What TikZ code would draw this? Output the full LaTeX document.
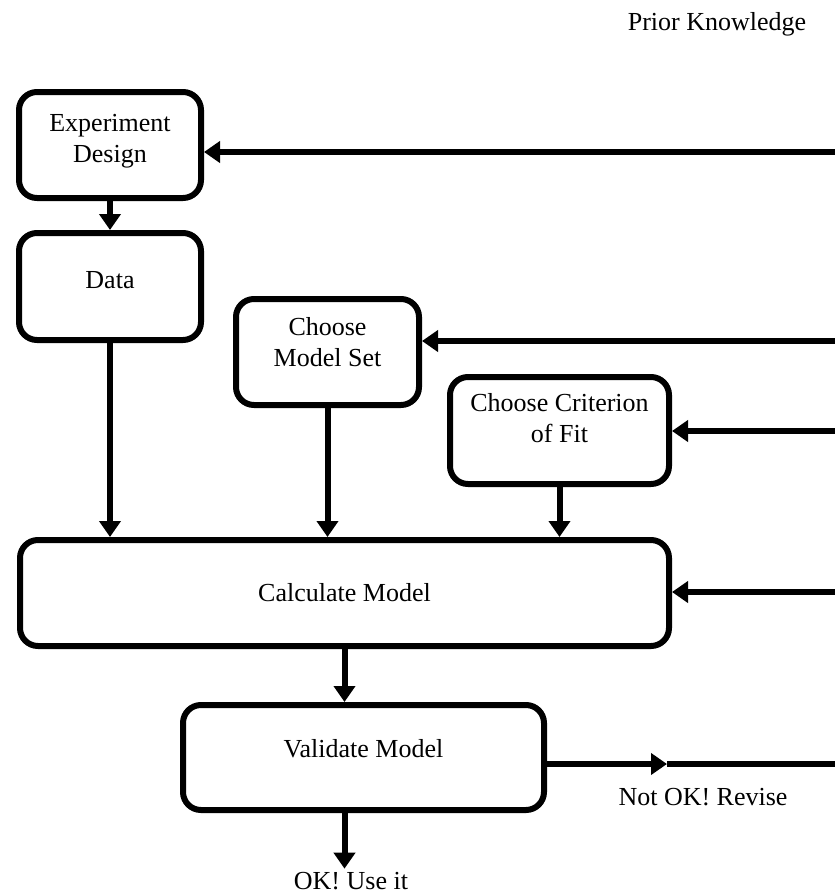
\documentclass[tikz,border=0pt]{standalone}
\usepackage{fontspec}
\setmainfont{Liberation Serif}
\usetikzlibrary{arrows.meta}
\tikzset{
  box/.style={draw,rectangle,rounded corners=18pt,line width=6pt,fill=white,inner sep=0pt},
  txt/.style={align=center,font=\fontsize{26pt}{31pt}\selectfont},
  arr/.style={line width=6pt,-{Triangle[length=16pt,width=21pt]}},
  wire/.style={line width=6pt},
}

\begin{document}
\begin{tikzpicture}[x=1pt,y=-1pt]
  \useasboundingbox (0,0) rectangle (835,895);
  % boxes
  \node[box,minimum width=182pt,minimum height=106pt,label={[txt,yshift=4pt]center:Experiment\\Design}] (exp) at (110,145) {};
  \node[box,minimum width=182pt,minimum height=107pt,label={[txt,yshift=6pt]center:Data}] (data) at (110,286.5) {};
  \node[box,minimum width=183pt,minimum height=106pt,label={[txt,yshift=10pt]center:Choose\\Model Set}] (mset) at (327.5,352) {};
  \node[box,minimum width=219pt,minimum height=107pt,label={[txt,yshift=12pt]center:Choose Criterion\\of Fit}] (crit) at (559.5,430.5) {};
  \node[box,minimum width=649pt,minimum height=106pt,label={[txt]center:Calculate Model}] (calc) at (344.5,593) {};
  \node[box,minimum width=361pt,minimum height=105pt,label={[txt,yshift=9pt]center:Validate Model}] (val) at (363.5,757.5) {};
  % free texts
  \node[txt] (prior) at (717,24) {Prior Knowledge};
  \node[txt] (revise) at (703,797) {Not OK! Revise};
  \node[txt] (use) at (351,881) {OK! Use it};
  % feedback ends at the right edge
  \coordinate (pk1) at (835,152);
  \coordinate (pk2) at (835,341);
  \coordinate (pk3) at (835,431);
  \coordinate (pk4) at (835,592);
  \coordinate (rev) at (667,764);
  \coordinate (rev2) at (835,764);
  % main flow
  \draw[arr] (exp.south) -- (data.north);
  \draw[arr] (data.south) -- (data.south |- calc.north);
  \draw[arr] (mset.south) -- (mset.south |- calc.north);
  \draw[arr] (crit.south) -- (crit.south |- calc.north);
  \draw[arr] (calc.south) -- (calc.south |- val.north);
  \draw[arr] (val.south -| calc.south) -- (calc.south |- use.north);
  % feedback
  \draw[arr] (pk1) -- (pk1 -| exp.east);
  \draw[arr] (pk2) -- (pk2 -| mset.east);
  \draw[arr] (pk3) -- (pk3 -| crit.east);
  \draw[arr] (pk4) -- (pk4 -| calc.east);
  \draw[arr] (val.east |- rev) -- (rev);
  \draw[wire] (rev) -- (rev2);
\end{tikzpicture}
\end{document}
